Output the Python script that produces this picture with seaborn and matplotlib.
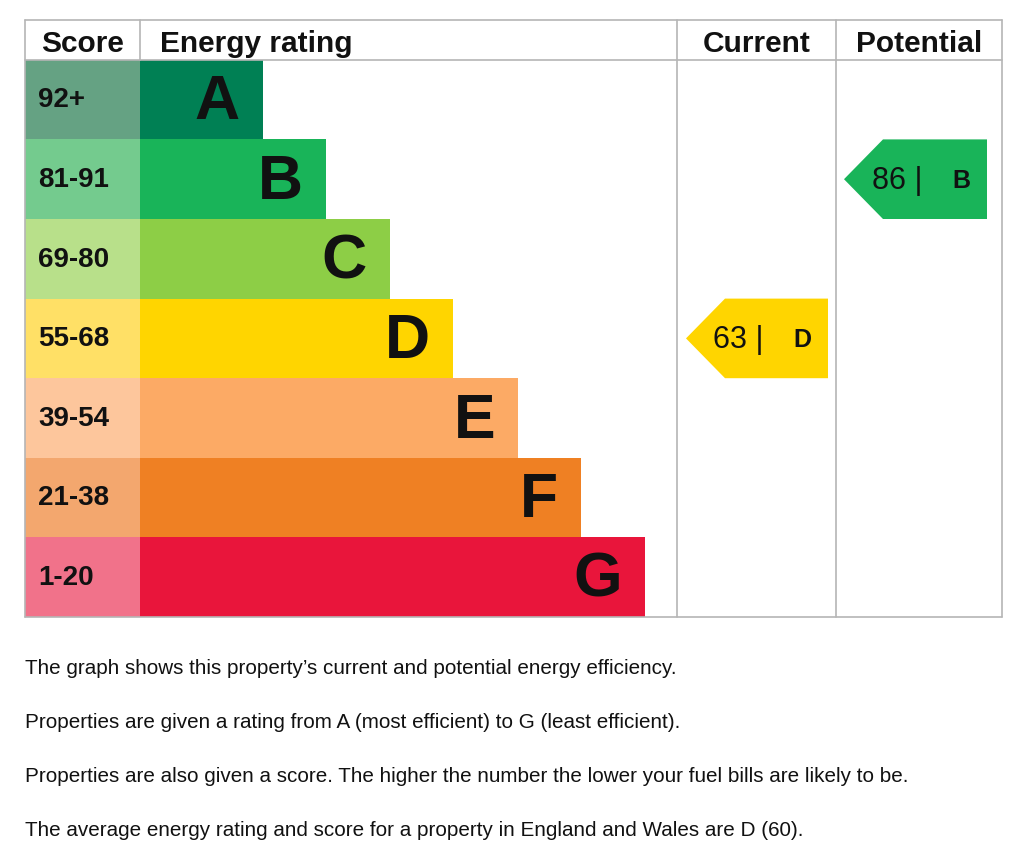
import matplotlib
matplotlib.use("Agg")
import matplotlib.pyplot as plt
import seaborn as sns
from matplotlib.patches import Polygon

# ---- data ----
bands = ["A", "B", "C", "D", "E", "F", "G"]
score_ranges = ["92+", "81-91", "69-80", "55-68", "39-54", "21-38", "1-20"]
band_lower = [92, 81, 69, 55, 39, 21, 1]
bar_length = [123, 186, 250, 313, 378, 441, 505]
bar_colors = ["#008054", "#19b459", "#8dce46", "#ffd500", "#fcaa65", "#ef8023", "#e9153b"]
score_colors = ["#65a283", "#74cb8e", "#b8e08a", "#ffe066", "#fdc69c", "#f3a76e", "#f1728a"]
current_score = 63
potential_score = 86
headers = ["Score", "Energy rating", "Current", "Potential"]
notes = [
    "The graph shows this property\u2019s current and potential energy efficiency.",
    "Properties are given a rating from A (most efficient) to G (least efficient).",
    "Properties are also given a score. The higher the number the lower your fuel bills are likely to be.",
    "The average energy rating and score for a property in England and Wales are D (60).",
]

sns.set_theme(style="white")
plt.rcParams["font.family"] = ["Liberation Sans", "DejaVu Sans"]

W, H = 1024, 859
fig = plt.figure(figsize=(W / 100, H / 100), dpi=100)
fig.patch.set_facecolor("white")

# table axes: x 25..1002 px, y 20..617 px
ax = fig.add_axes([25 / W, (H - 617) / H, 977 / W, 597 / H])
SCORE_W = 115
COL_CUR = (537, 696)
COL_POT = (696, 862)

sns.barplot(x=bar_length, y=bands, hue=bands, palette=bar_colors, orient="h",
            width=1.0, saturation=1, legend=False, ax=ax, linewidth=0)
ax.barh(range(len(bands)), [SCORE_W] * len(bands), left=-SCORE_W, height=1.0,
        color=score_colors, linewidth=0)

ax.set_xlim(-SCORE_W, 862)
ax.set_ylim(6.5, -1.0)
ax.axis("off")

# band letters and score labels
for i, (b, L, s) in enumerate(zip(bands, bar_length, score_ranges)):
    ax.text(L - 23, i + 0.04, b, ha="right", va="center", fontsize=45,
            fontweight="bold", color="#111111")
    ax.text(-SCORE_W + 13, i + 0.01, s, ha="left", va="center", fontsize=20,
            fontweight="bold", color="#111111")

# header texts
hy = -0.70
hs = 21.5
ax.text(-SCORE_W / 2, hy, headers[0], ha="center", va="center", fontsize=hs, fontweight="bold", color="#111111")
ax.text(20, hy, headers[1], ha="left", va="center", fontsize=hs, fontweight="bold", color="#111111")
ax.text(sum(COL_CUR) / 2, hy, headers[2], ha="center", va="center", fontsize=hs, fontweight="bold", color="#111111")
ax.text(sum(COL_POT) / 2, hy, headers[3], ha="center", va="center", fontsize=hs, fontweight="bold", color="#111111")

# grid lines
gc = "#b5b5b5"
lw = 1.2
ax.plot([-SCORE_W, 862], [-1.0, -1.0], color=gc, lw=lw, clip_on=False)
ax.plot([-SCORE_W, 862], [-0.5, -0.5], color=gc, lw=lw, clip_on=False)
ax.plot([-SCORE_W, 862], [6.5, 6.5], color=gc, lw=lw, clip_on=False)
ax.plot([-SCORE_W, -SCORE_W], [-1.0, 6.5], color=gc, lw=lw, clip_on=False)
ax.plot([0, 0], [-1.0, -0.5], color=gc, lw=lw, clip_on=False)
for xv in (COL_CUR[0], COL_POT[0], COL_POT[1]):
    ax.plot([xv, xv], [-1.0, 6.5], color=gc, lw=lw, clip_on=False)


def band_index(score):
    for i, lo in enumerate(band_lower):
        if score >= lo:
            return i
    return len(band_lower) - 1


def arrow(score, right, width):
    i = band_index(score)
    left = right - width
    tip = 39
    poly = Polygon([(left, i), (left + tip, i - 0.5), (right, i - 0.5),
                    (right, i + 0.5), (left + tip, i + 0.5)], closed=True,
                   facecolor=bar_colors[i], edgecolor="none", zorder=3)
    ax.add_patch(poly)
    ax.text(right - 115, i + 0.02, f"{score} |", ha="left", va="center",
            fontsize=22, color="#111111", zorder=4)
    ax.text(right - 35, i + 0.02, bands[i], ha="left", va="center",
            fontsize=18, fontweight="bold", color="#111111", zorder=4)


arrow(current_score, COL_CUR[1] - 8, 142)
arrow(potential_score, COL_POT[1] - 15, 143)

# notes below
for k, t in enumerate(notes):
    y = 668 + 54 * k
    fig.text(25 / W, 1 - y / H, t, ha="left", va="center", fontsize=14.9, color="#111111")

fig.savefig("out.png", dpi=100, facecolor="white")
